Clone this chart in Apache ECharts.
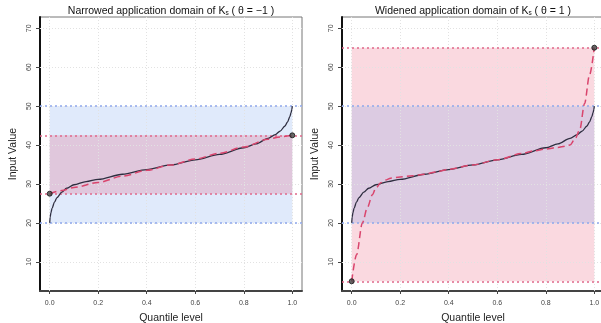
<!DOCTYPE html>
<html>
<head>
<meta charset="utf-8">
<script src="https://cdn.jsdelivr.net/npm/echarts@6/dist/echarts.min.js"></script>
<style>html,body{margin:0;padding:0;background:#fff}#c{width:601px;height:323px}</style>
</head>
<body>
<div id="c"></div>
<script>
// ---- data ----
var xTicks = [0, 0.2, 0.4, 0.6, 0.8, 1.0];
var yTicks = [10, 20, 30, 40, 50, 60, 70];
var titles = ['Narrowed application domain of K{s|s} ( θ = −1 )', 'Widened application domain of K{s|s} ( θ = 1 )'];
var qBlack = [0, 0.002, 0.005, 0.01, 0.02, 0.03, 0.05, 0.07, 0.1, 0.15, 0.2, 0.3, 0.4, 0.5, 0.6, 0.7, 0.8, 0.85, 0.9, 0.93, 0.95, 0.97, 0.98, 0.99, 0.995, 0.998, 1];
var vBlack = [20, 21.5, 22.6, 23.8, 25.4, 26.5, 27.9, 28.9, 29.8, 30.6, 31.2, 32.5, 33.7, 34.9, 36.2, 37.6, 39.3, 40.3, 41.7, 42.7, 43.6, 44.9, 45.9, 47.3, 48.3, 49.1, 50];
var qNarrow = [0, 0.05, 0.1, 0.2, 0.3, 0.4, 0.5, 0.6, 0.7, 0.8, 0.9, 0.95, 1];
var vNarrow = [27.5, 28.3, 29.1, 30.4, 32.0, 33.5, 34.9, 36.4, 37.9, 39.5, 41.5, 42.1, 42.5];
var qWide = [0, 0.02, 0.044, 0.065, 0.085, 0.1, 0.12, 0.14, 0.16, 0.2, 0.25, 0.3, 0.35, 0.4, 0.5, 0.6, 0.7, 0.75, 0.8, 0.85, 0.88, 0.9, 0.92, 0.94, 0.96, 0.98, 1];
var vWide = [5, 11.8, 20, 24, 27.2, 29, 30.3, 31.0, 31.5, 31.8, 32.1, 32.5, 33.1, 33.8, 34.9, 36.2, 37.8, 38.5, 39.0, 39.4, 39.7, 40.0, 41.5, 43.9, 50.7, 57.9, 65];
var domainK = [20, 50];       // original domain
var domainNarrow = [27.5, 42.5];
var domainWide = [5, 65];

function zip(a, b) { return a.map(function (x, i) { return [x, b[i]]; }); }
function ends(lo, hi) { return [[0, lo], [1, hi]]; }

var BLUE_FILL = 'rgba(100,149,237,0.2)';
var PINK_FILL = 'rgba(225,45,85,0.18)';
var BLUE_LINE = '#8ea8ec';
var PINK_LINE = '#e0688a';
var FONT = 'Liberation Sans, Arial, sans-serif';

var grids = [
  {left: 40, top: 17, width: 262, height: 274},
  {left: 342, top: 17, width: 262, height: 274}
];
grids.forEach(function (g) { g.show = true; g.borderColor = '#777'; g.borderWidth = 1; g.containLabel = false; g.outerBoundsMode = 'none'; });

function xAx(i) {
  return {
    type: 'value', gridIndex: i, min: -0.04, max: 1.04,
    name: 'Quantile level', nameLocation: 'middle', nameGap: 22,
    nameTextStyle: {fontFamily: FONT, fontSize: 10.5, color: '#222'},
    axisLine: {show: true, onZero: false, lineStyle: {color: '#444', width: 2}},
    axisTick: {show: true, customValues: xTicks, length: 3, lineStyle: {color: '#444'}},
    axisLabel: {customValues: xTicks, fontFamily: FONT, fontSize: 7, color: '#444', margin: 9,
      formatter: function (v) { return v.toFixed(1); }},
    splitLine: {show: false}
  };
}
function yAx(i) {
  return {
    type: 'value', gridIndex: i, min: 2.5, max: 72.9,
    name: 'Input Value', nameLocation: 'middle', nameGap: 21,
    nameTextStyle: {fontFamily: FONT, fontSize: 10.5, color: '#222'},
    axisLine: {show: true, onZero: false, lineStyle: {color: '#111', width: 2}},
    axisTick: {show: true, customValues: yTicks, length: 4, lineStyle: {color: '#444'}},
    axisLabel: {customValues: yTicks, rotate: 90, fontFamily: FONT, fontSize: 7, color: '#444', margin: 7},
    splitLine: {show: false}
  };
}

function gridLines(i) {
  var d = xTicks.map(function (v) { return {xAxis: v}; }).concat(yTicks.map(function (v) { return {yAxis: v}; }));
  return {
    type: 'line', xAxisIndex: i, yAxisIndex: i, data: [], z: 2, silent: true,
    markLine: {silent: true, symbol: ['none', 'none'], label: {show: false}, animation: false,
      lineStyle: {color: '#e2e2e2', type: [1, 2], width: 1}, data: d}
  };
}
function area(i, lo, hi, color, z) {
  return {
    type: 'line', xAxisIndex: i, yAxisIndex: i, data: [], z: z, silent: true,
    markArea: {silent: true, animation: false, itemStyle: {color: color},
      data: [[{xAxis: 0, yAxis: lo}, {xAxis: 1, yAxis: hi}]]}
  };
}
function refLines(i, vals, color) {
  return {
    type: 'line', xAxisIndex: i, yAxisIndex: i, data: [], z: 3, silent: true,
    markLine: {silent: true, symbol: ['none', 'none'], label: {show: false}, animation: false,
      lineStyle: {color: color, type: [2, 3], width: 1.6},
      data: vals.map(function (v) { return {yAxis: v}; })}
  };
}
function curve(i, data, color, type, w) {
  return {type: 'line', xAxisIndex: i, yAxisIndex: i, data: data, showSymbol: false, z: 5,
    smooth: 0.3, smoothMonotone: 'x', lineStyle: {color: color, type: type, width: w}};
}
function pts(i, data) {
  return {type: 'scatter', xAxisIndex: i, yAxisIndex: i, data: data, z: 6, symbolSize: 5,
    itemStyle: {color: '#444', borderColor: '#111', borderWidth: 1}};
}

var series = [
  // left panel
  area(0, domainK[0], domainK[1], BLUE_FILL, 1),
  area(0, domainNarrow[0], domainNarrow[1], PINK_FILL, 1),
  gridLines(0),
  refLines(0, domainK, BLUE_LINE),
  refLines(0, domainNarrow, PINK_LINE),
  curve(0, zip(qBlack, vBlack), '#2e2e40', 'solid', 1.3),
  curve(0, zip(qNarrow, vNarrow), '#d9456d', [7, 4], 1.5),
  pts(0, ends(domainNarrow[0], domainNarrow[1])),
  // right panel
  area(1, domainWide[0], domainWide[1], PINK_FILL, 1),
  area(1, domainK[0], domainK[1], BLUE_FILL, 1),
  gridLines(1),
  refLines(1, domainWide, PINK_LINE),
  refLines(1, domainK, BLUE_LINE),
  curve(1, zip(qBlack, vBlack), '#2e2e40', 'solid', 1.3),
  curve(1, zip(qWide, vWide), '#d9456d', [7, 4], 1.5),
  pts(1, ends(domainWide[0], domainWide[1]))
];

var titleRich = {s: {fontFamily: FONT, fontSize: 6.5, color: '#111', padding: [5, 0, 0, 0]}};
var chart = echarts.init(document.getElementById('c'), null, {renderer: 'canvas'});
chart.setOption({
  animation: false,
  backgroundColor: '#fff',
  title: [
    {text: titles[0], left: 171, top: 5, textAlign: 'center', padding: 0,
      textStyle: {fontFamily: FONT, fontSize: 10.5, fontWeight: 'normal', color: '#111', rich: titleRich}},
    {text: titles[1], left: 473, top: 5, textAlign: 'center', padding: 0,
      textStyle: {fontFamily: FONT, fontSize: 10.5, fontWeight: 'normal', color: '#111', rich: titleRich}}
  ],
  grid: grids,
  xAxis: [xAx(0), xAx(1)],
  yAxis: [yAx(0), yAx(1)],
  series: series
});
</script>
</body>
</html>
